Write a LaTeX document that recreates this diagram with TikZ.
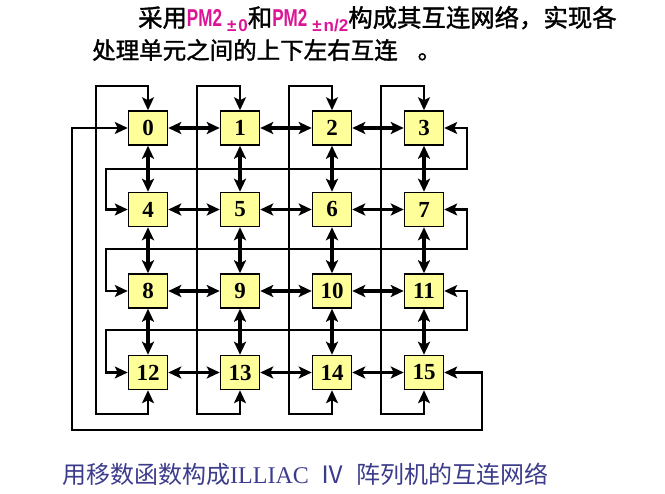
\documentclass[tikz,border=0pt]{standalone}
\usepackage{fontspec}
\usepackage{tikz}
\usetikzlibrary{arrows.meta}
\setmainfont{Liberation Serif}
\newfontfamily\cjk{Noto Sans CJK SC}
\newfontfamily\cjkbold[FakeBold=1.5]{Noto Sans CJK SC}
\newfontfamily\pmfont{Liberation Sans}
\newfontfamily\latinfont{Liberation Serif}
\definecolor{peyellow}{RGB}{255,255,153}
\definecolor{pmpink}{RGB}{220,20,150}
\definecolor{capblue}{RGB}{60,60,140}
\newcommand{\pmtwo}[1]{\textcolor{pmpink}{\pmfont\bfseries\scalebox{0.7}[1]{PM2}\hspace{5pt}\raisebox{-5pt}{\fontsize{17}{17}\selectfont ±\hspace{2pt}#1}}}

\begin{document}
\begin{tikzpicture}[x = 1pt, y = -1pt,
    pe/.style = {draw, line width = 1.5pt, fill = peyellow, minimum width = 39pt,
        minimum height = 34pt, inner sep = 0pt, font = \fontsize{23}{23}\selectfont\bfseries},
    link/.style = {line width = 3.2pt, {Stealth[length=13pt,width=12pt,inset=3pt]}-{Stealth[length=13pt,width=12pt,inset=3pt]}},
    wrap/.style = {line width = 2.1pt, {Stealth[length=13pt,width=12pt,inset=3pt]}-{Stealth[length=13pt,width=12pt,inset=3pt]}}]
        \useasboundingbox (0,0) rectangle (665,494);
        
        \node[anchor = west, inner sep = 0pt, font = \cjkbold\fontsize{24.4}{24.4}\selectfont] (title1) at (138,19) {采用\pmtwo{0}和\pmtwo{n/2}构成其互连网络，实现各};
        \node[anchor = west, inner sep = 0pt, font = \cjkbold\fontsize{23.5}{23.5}\selectfont] (title2) at (92,50) {处理单元之间的上下左右互连\hspace{20pt}。};
        
        \foreach \n in {0,...,15}{
            \pgfmathtruncatemacro\c{mod(\n,4)}
            \pgfmathtruncatemacro\r{div(\n,4)}
            \node[pe] (n\n) at (148+92*\c, 128+81.5*\r) {\n};
        }
        
        \foreach \a [evaluate = \a as \b using int(\a+1)] in {0,1,2,4,5,6,8,9,10,12,13,14}
            \draw[link] (n\a) -- (n\b);
        \foreach \a [evaluate = \a as \b using int(\a+4)] in {0,...,11}
            \draw[link] (n\a) -- (n\b);
        
        \foreach \c/\xl [evaluate = \c as \b using int(\c+12)] in {0/96,1/197,2/289,3/381}{
            \coordinate (top\c) at (\xl,86);
            \coordinate (bot\c) at (\xl,414);
            \draw[wrap] (n\b.south) |- (bot\c) -- (top\c) -| (n\c.north);
        }
        
        \foreach \r/\ym [evaluate = \r as \a using int(4*\r+3), evaluate = \r as \b using int(4*\r+4)] in {0/169,1/249,2/330}{
            \coordinate (re\r) at (467,\ym);
            \coordinate (rw\r) at (106,\ym);
            \draw[wrap] (n\a.east) -| (re\r) -- (rw\r) |- (n\b.west);
        }
        
        \coordinate (se) at (482,430);
        \coordinate (sw) at (72,430);
        \draw[wrap] (n15.east) -| (se) -- (sw) |- (n0.west);
        
        \node[anchor = west, inner sep = 0pt, text = capblue, font = \cjk\fontsize{24}{24}\selectfont] (caption) at (62,474) {用移数函数构成{\latinfont ILLIAC}\hspace{12pt}Ⅳ\hspace{12pt}阵列机的互连网络};
    \end{tikzpicture}
\end{document}
